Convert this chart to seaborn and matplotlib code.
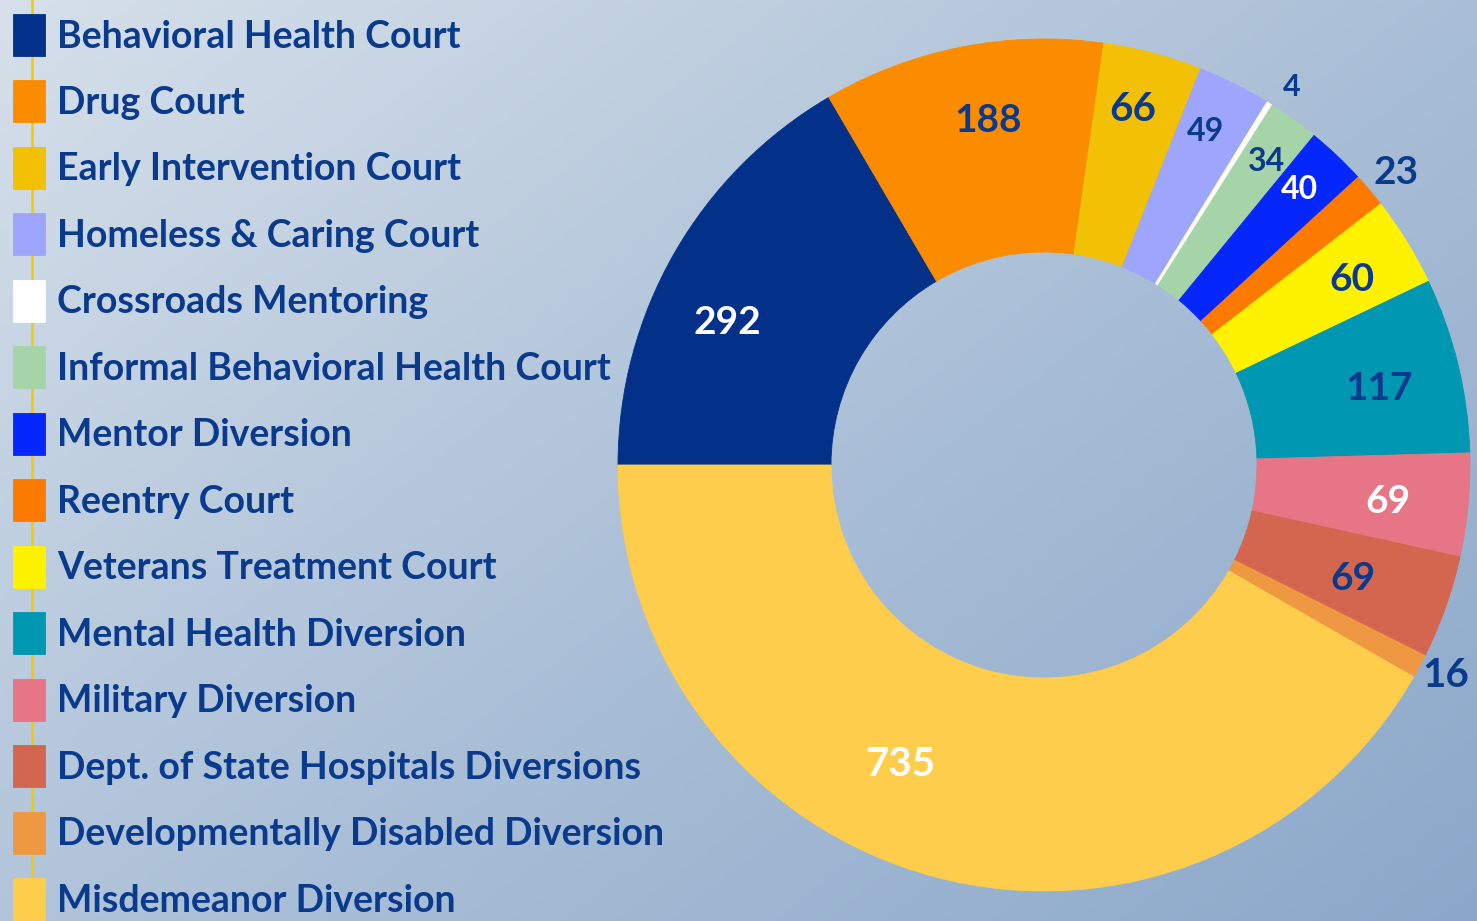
import numpy as np
import matplotlib.pyplot as plt
import seaborn as sns
from matplotlib.colors import LinearSegmentedColormap
from matplotlib.lines import Line2D

programs = ["Behavioral Health Court", "Drug Court", "Early Intervention Court",
            "Homeless & Caring Court", "Crossroads Mentoring",
            "Informal Behavioral Health Court", "Mentor Diversion", "Reentry Court",
            "Veterans Treatment Court", "Mental Health Diversion", "Military Diversion",
            "Dept. of State Hospitals Diversions", "Developmentally Disabled Diversion",
            "Misdemeanor Diversion"]
counts = [292, 188, 66, 49, 4, 34, 40, 23, 60, 117, 69, 69, 16, 735]
colors = ["#03318a", "#fb8c00", "#f2c004", "#9da5fc", "#ffffff", "#a6d4a9",
          "#0527fb", "#fd7a00", "#fff200", "#0097b2", "#e67685", "#d4654e",
          "#ee9941", "#fecd4c"]

navy_text = "#0a3a8c"
# label placement (fraction of radius, angle nudge in degrees), colour and size
label_r = [0.82, 0.83, 0.87, 0.88, 1.07, 0.89, 0.89, 1.08, 0.85, 0.81, 0.81, 0.77, 1.06, 0.77]
label_shift = [5, -2, 1, 1, -1, 0, 1, 0, 0, 0, 0, 0, 1, -11]
label_col = ["white", navy_text, navy_text, navy_text, navy_text, navy_text, "white",
             navy_text, navy_text, navy_text, "white", navy_text, navy_text, "white"]
label_size = [28, 28, 29, 23, 22, 23, 23, 28, 28, 28, 28, 28, 29, 29]

sns.set_theme(style="white")
plt.rcParams["font.family"] = ["Lato", "DejaVu Sans"]

W, H = 1477, 921
fig = plt.figure(figsize=(W / 100, H / 100), dpi=100)

# gradient background
bg = fig.add_axes([0, 0, 1, 1], zorder=-10)
xx, yy = np.meshgrid(np.linspace(0, 1, 400), np.linspace(0, 1, 250))
grad = 0.55 * xx + 0.45 * yy
cmap = LinearSegmentedColormap.from_list("bg", ["#d6e0ea", "#adc1d8", "#8ba8ca"])
bg.imshow(grad, cmap=cmap, aspect="auto", extent=[0, 1, 0, 1], origin="upper")
bg.set_axis_off()

# thin yellow line running behind the legend squares
fig.add_artist(Line2D([32 / W, 32 / W], [0, 1], color="#f5c800", lw=1.8,
                      transform=fig.transFigure, zorder=-5))

R = 426
cx, cy = 1044, 465
ax = fig.add_axes([(cx - R) / W, (H - cy - R) / H, 2 * R / W, 2 * R / H])
ax.set_facecolor("none")
wedges, _ = ax.pie(counts, colors=colors, startangle=180, counterclock=False,
                   radius=1, wedgeprops=dict(width=0.5, linewidth=0.6))
for w in wedges:
    w.set_edgecolor(w.get_facecolor())
ax.set_xlim(-1, 1)
ax.set_ylim(-1, 1)
ax.set_aspect("equal")
ax.axis("off")

for w, n, r, sh, c, fs in zip(wedges, counts, label_r, label_shift, label_col, label_size):
    ang = np.deg2rad((w.theta1 + w.theta2) / 2 + sh)
    ax.text(r * np.cos(ang), r * np.sin(ang) - 0.01, str(n), ha="center", va="center",
            color=c, fontsize=fs, fontweight="bold", clip_on=False)

ax.legend(wedges, programs, loc="upper left", bbox_to_anchor=(13 / W, 1 - 14 / H),
          bbox_transform=fig.transFigure, frameon=False,
          labelcolor=navy_text, prop=dict(weight="bold", size=27),
          handlelength=0.853, handleheight=1.346, labelspacing=0.653,
          handletextpad=0.32, borderpad=0, borderaxespad=0)

fig.savefig("out.png", dpi=100)
